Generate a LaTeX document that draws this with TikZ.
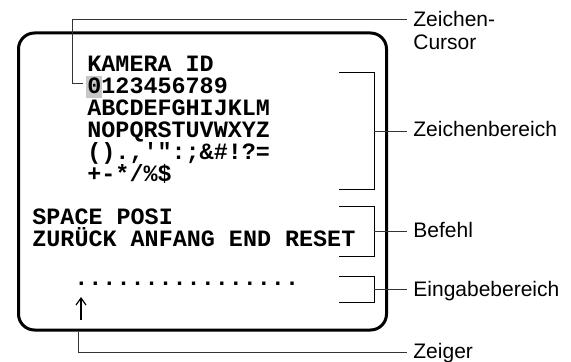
\documentclass[tikz,border=0pt]{standalone}
\usepackage{fontspec}
\setmainfont{Liberation Sans}
\setmonofont{Liberation Mono}
\usetikzlibrary{arrows.meta}

\tikzset{
  osd/.style={anchor=base west,inner sep=0pt,font=\ttfamily\bfseries\fontsize{11.7}{11.7}\selectfont},
  callout/.style={anchor=base west,inner xsep=3pt,inner ysep=0pt,align=left,font=\fontsize{10.5}{11.3}\selectfont},
  leader/.style={line width=.5pt,black!80},
  bracket/.style={line width=.5pt},
}

\begin{document}
\begin{tikzpicture}[x=.5pt,y=-.5pt,>={Straight Barb[length=3.5pt,width=5pt]}]
 \useasboundingbox (0,0) rectangle (571,362);
 % monitor screen
 \draw[line width=1.5pt,rounded corners=8pt] (18.5,33) rectangle (386.5,330);
 \fill[black!22] (86,76) rectangle (102,98);
 \node[osd] (title) at (87,72) {KAMERA ID};
 \node[osd] (row1) at (87,94) {0123456789};
 \node[osd] (row2) at (87,116) {ABCDEFGHIJKLM};
 \node[osd] (row3) at (87,138) {NOPQRSTUVWXYZ};
 \node[osd] (row4) at (87,160) {().,\textquotesingle\textquotedbl:;\&\#!?=};
 \node[osd] (row5) at (87,182) {+-*/\%\$};
 \node[osd] (cmd1) at (32,225) {SPACE POSI};
 \node[osd] (cmd2) at (32,247) {ZURÜCK ANFANG END RESET};
 \node[osd] (input) at (74,286) {................};
 \coordinate (ptrtail) at (81,320);
 \coordinate (ptrhead) at (81,297);
 \draw[->,line width=.6pt] (ptrtail) -- (ptrhead);

 % callouts
 \node[callout] (lcursor) at (407,49.3) {Zeichen-\\Cursor};
 \node[callout] (lchars) at (407,137) {Zeichenbereich};
 \node[callout] (lcmd) at (407,238) {Befehl};
 \node[callout] (linput) at (407,296.5) {Eingabebereich};
 \node[callout] (lptr) at (407,358) {Zeiger};

 \coordinate (cursor) at (83,83.5);
 \coordinate (cursorknee) at (72,20);
 \draw[leader] (cursorknee -| lcursor.west) -- (cursorknee) |- (cursor);

 \coordinate (charsmid) at (374,131.5);
 \draw[bracket] (339,73) -| (374,190) -- (339,190);
 \draw[leader] (charsmid) -- (charsmid -| lchars.west);

 \coordinate (cmdmid) at (374,232);
 \draw[bracket] (339,207) -| (374,257) -- (339,257);
 \draw[leader] (cmdmid) -- (cmdmid -| lcmd.west);

 \coordinate (inputmid) at (374,290);
 \draw[bracket] (339,277) -| (374,303) -- (339,303);
 \draw[leader] (inputmid) -- (inputmid -| linput.west);

 \coordinate (ptrknee) at (78,352);
 \draw[leader] (78,331.5) -- (ptrknee) -- (ptrknee -| lptr.west);
\end{tikzpicture}
\end{document}
